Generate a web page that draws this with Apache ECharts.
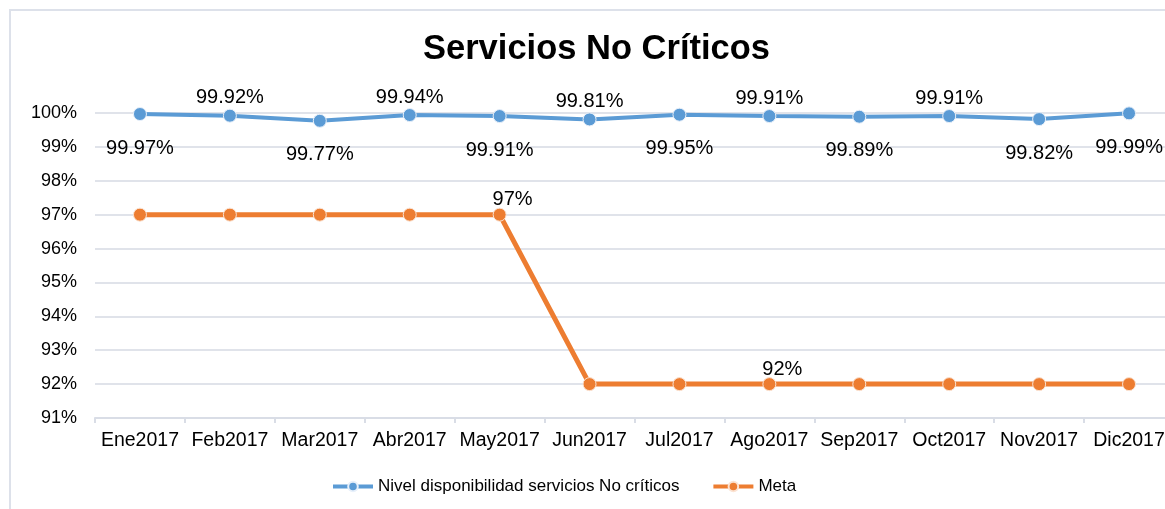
<!DOCTYPE html>
<html>
<head>
<meta charset="utf-8">
<script src="https://cdn.jsdelivr.net/npm/echarts@6/dist/echarts.min.js"></script>
<style>
  html, body { margin: 0; padding: 0; background: #fff; overflow: hidden; }
  #chart { width: 1176px; height: 509px; }
</style>
</head>
<body>
<div id="chart"></div>
<script>
// meses
const meses = ["Ene2017", "Feb2017", "Mar2017", "Abr2017", "May2017", "Jun2017",
  "Jul2017", "Ago2017", "Sep2017", "Oct2017", "Nov2017", "Dic2017"];
// nivel disponibilidad (%)
const nivel = [99.97, 99.92, 99.77, 99.94, 99.91, 99.81, 99.95, 99.91, 99.89, 99.91, 99.82, 99.99];
// meta (%)
const meta = [97, 97, 97, 97, 97, 92, 92, 92, 92, 92, 92, 92];

// etiquetas arriba / abajo como en la imagen
const nivelArriba = [1, 3, 5, 7, 9];
const metaConEtiqueta = [4, 7];

var myChart = echarts.init(document.getElementById("chart"));
myChart.setOption({
  animation: false,
  backgroundColor: "#fff",
  graphic: [{
    type: "rect",
    z: -10,
    shape: { x: 10, y: 10, width: 1300, height: 700 },
    style: { fill: "none", stroke: "#dde1ea", lineWidth: 2 },
  }],
  title: {
    text: "Servicios No Críticos",
    left: 418,
    top: 27,
    textStyle: { fontFamily: "Liberation Sans", fontSize: 34.5, fontWeight: "bold", color: "#000" },
  },
  legend: {
    left: 326,
    top: 473,
    itemWidth: 40,
    itemHeight: 12,
    itemGap: 32,
    lineStyle: { width: 4 },
    textStyle: { fontFamily: "Liberation Sans", fontSize: 17, color: "#000" },
  },
  grid: { left: 95, right: 2, top: 113, bottom: 91 },
  xAxis: {
    type: "category",
    data: meses,
    boundaryGap: true,
    axisLine: { lineStyle: { color: "#d9dde6", width: 2 } },
    axisTick: { show: true, length: 5, lineStyle: { color: "#d9dde6", width: 2 } },
    axisLabel: { margin: 13, fontFamily: "Liberation Sans", fontSize: 19.5, color: "#000", interval: 0 },
  },
  yAxis: {
    type: "value",
    min: 91,
    max: 100,
    interval: 1,
    axisLine: { show: false },
    axisTick: { show: false },
    splitLine: { lineStyle: { color: "#e0e3ea", width: 2 } },
    axisLabel: { formatter: "{value}%", margin: 18, fontFamily: "Liberation Sans", fontSize: 18, color: "#000" },
  },
  series: [
    {
      name: "Nivel disponibilidad servicios No críticos",
      type: "line",
      symbol: "circle",
      symbolSize: 13,
      lineStyle: { color: "#5b9bd5", width: 4 },
      itemStyle: { color: "#5b9bd5", borderColor: "#e8f0fa", borderWidth: 1 },
      data: nivel.map((v, i) => ({
        value: v,
        label: nivelArriba.includes(i)
          ? { position: "top", distance: 1 }
          : { position: "bottom", distance: 17 },
      })),
      label: {
        show: true,
        formatter: "{c}%",
        fontFamily: "Liberation Sans",
        fontSize: 20,
        color: "#000",
      },
    },
    {
      name: "Meta",
      type: "line",
      symbol: "circle",
      symbolSize: 13,
      lineStyle: { color: "#ed7d31", width: 5 },
      itemStyle: { color: "#ed7d31", borderColor: "#fbe3d3", borderWidth: 1 },
      data: meta.map((v, i) => ({
        value: v,
        label: { show: metaConEtiqueta.includes(i) },
      })),
      label: {
        show: false,
        position: "top",
        distance: -2,
        offset: [13, 0],
        formatter: "{c}%",
        fontFamily: "Liberation Sans",
        fontSize: 20,
        color: "#000",
      },
    },
  ],
});
</script>
</body>
</html>
